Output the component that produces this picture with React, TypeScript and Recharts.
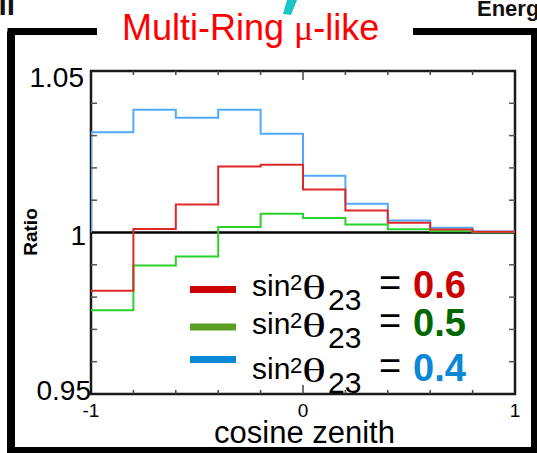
import React from 'react';
import { LineChart, Line, XAxis, YAxis, ReferenceLine, ReferenceArea, Legend } from 'recharts';

// ---- data ----
const BIN_EDGES = [-1, -0.8, -0.6, -0.4, -0.2, 0, 0.2, 0.4, 0.6, 0.8, 1];
const RATIO_SIN2_06 = [0.982, 1.0011, 1.0087, 1.0204, 1.021, 1.0133, 1.0068, 1.003, 1.0009, 1.0002];
const RATIO_SIN2_05 = [0.9759, 0.9898, 0.9926, 1.0017, 1.0058, 1.0045, 1.0025, 1.001, 1.0004, 1.0001];
const RATIO_SIN2_04 = [1.031, 1.038, 1.0355, 1.038, 1.0306, 1.0176, 1.0089, 1.0037, 1.0015, 1.0003];
const X_TICKS = [-1, -0.8, -0.6, -0.4, -0.2, 0, 0.2, 0.4, 0.6, 0.8, 1];
const X_TICK_LABELS: Record<string, string> = { '-1': '-1', '0': '0', '1': '1' };
const Y_TICKS = [0.95, 0.96, 0.97, 0.98, 0.99, 1, 1.01, 1.02, 1.03, 1.04, 1.05];
const Y_TICK_LABELS: Record<string, string> = { '0.95': '0.95', '1': '1', '1.05': '1.05' };
const LEGEND_VALUES = ['0.6', '0.5', '0.4'];
const TITLE = 'Multi-Ring';
const TITLE_MU = 'μ-like';
const X_TITLE = 'cosine zenith';
const Y_TITLE = 'Ratio';

// ---- layout / style ----
const W = 537;
const H = 453;
const PLOT_LEFT = 91;
const PLOT_RIGHT = 515;
const PLOT_TOP = 71;
const PLOT_BOTTOM = 394;
const SANS = '"Liberation Sans", Arial, Helvetica, sans-serif';
const SERIF = '"Liberation Serif", "Times New Roman", serif';

const LINE_COLORS = { s06: '#e02828', s05: '#2ad22a', s04: '#50aaff' };
const LEGEND_SWATCH = ['#cc0000', '#5a9e22', '#0a88d8'];
const LEGEND_VALUE_COLORS = ['#cc0000', '#006600', '#0a88d8'];
const LEGEND_BASELINES = [296, 334, 379];
const LEGEND_SWATCH_Y = [289.5, 327, 359.5];

function toSteps(values: number[], startAtUnity = false) {
  const pts: { x: number; y: number }[] = [];
  if (startAtUnity) pts.push({ x: BIN_EDGES[0], y: 1 });
  values.forEach((v, i) => pts.push({ x: BIN_EDGES[i], y: v }));
  pts.push({ x: BIN_EDGES[BIN_EDGES.length - 1], y: values[values.length - 1] });
  return pts;
}

const data06 = toSteps(RATIO_SIN2_06);
const data05 = toSteps(RATIO_SIN2_05);
const data04 = toSteps(RATIO_SIN2_04, true);

const XTick = (props: any) => {
  const { x, payload } = props;
  const v = payload.value;
  const key = String(Math.round(v * 10) / 10);
  const len = Math.abs(v) < 1e-9 ? 9 : 4;
  const label = X_TICK_LABELS[key];
  const edge = Math.abs(Math.abs(v) - 1) < 1e-9;
  return (
    <g>
      {!edge && (
        <>
          <line x1={x} x2={x} y1={PLOT_BOTTOM} y2={PLOT_BOTTOM - len} stroke="#444" strokeWidth={1.5} />
          <line x1={x} x2={x} y1={PLOT_TOP} y2={PLOT_TOP + len} stroke="#444" strokeWidth={1.5} />
        </>
      )}
      {label && (
        <text x={x} y={417} textAnchor="middle" fontSize={19} fontFamily={SANS} fill="#000">
          {label}
        </text>
      )}
    </g>
  );
};

const Y_LABEL_POS: Record<string, { right: number; dy: number }> = {
  '1.05': { right: 84, dy: 16 },
  '1': { right: 86, dy: 12.5 },
  '0.95': { right: 91, dy: 6 },
};

const YTick = (props: any) => {
  const { y, payload } = props;
  const v = payload.value;
  const key = String(Math.round(v * 100) / 100);
  const label = Y_TICK_LABELS[key];
  const isLine = key === '0.95' || key === '1.05' || key === '1';
  const pos = Y_LABEL_POS[key];
  return (
    <g>
      {!isLine && (
        <>
          <line x1={PLOT_LEFT} x2={PLOT_LEFT + 6} y1={y} y2={y} stroke="#555" strokeWidth={1.5} />
          <line x1={PLOT_RIGHT - 6} x2={PLOT_RIGHT} y1={y} y2={y} stroke="#555" strokeWidth={1.5} />
        </>
      )}
      {label && pos && (
        <text x={pos.right} y={y + pos.dy} textAnchor="end" fontSize={28} fontFamily={SANS} fill="#000">
          {label}
        </text>
      )}
    </g>
  );
};

const LegendContent = () => (
  <svg width={W} height={H} style={{ position: 'absolute', left: 0, top: 0, overflow: 'visible' }}>
    {LEGEND_VALUES.map((val, i) => {
      const b = LEGEND_BASELINES[i];
      return (
        <g key={val}>
          <rect x={190} y={LEGEND_SWATCH_Y[i] - 3.5} width={46} height={7} fill={LEGEND_SWATCH[i]} />
          <text fontFamily={SANS} fill="#000">
            <tspan x={252} y={b} fontSize={30}>sin</tspan>
            <tspan x={290} y={b - 6} fontSize={22}>2</tspan>
            <tspan x={328} y={b + 14} fontSize={30}>23</tspan>
            <tspan x={379} y={b} fontSize={38}>=</tspan>
            <tspan x={413} y={b + 2} fontSize={38} fontWeight="bold" fill={LEGEND_VALUE_COLORS[i]}>{val}</tspan>
          </text>
          <text
            x={302}
            y={b + 3}
            fontSize={33}
            fontFamily={SERIF}
            fill="#000"
            textLength={24}
            lengthAdjust="spacingAndGlyphs"
          >
            θ
          </text>
        </g>
      );
    })}
  </svg>
);

export default function App() {
  return (
    <div style={{ position: 'absolute', left: 0, top: 0, width: W, height: H, background: '#fff', overflow: 'hidden' }}>
      <LineChart
        width={W}
        height={H}
        margin={{ top: PLOT_TOP, right: W - PLOT_RIGHT, bottom: 0, left: 0 }}
      >
        <XAxis
          type="number"
          dataKey="x"
          domain={[-1, 1]}
          ticks={X_TICKS}
          interval={0}
          height={H - PLOT_BOTTOM}
          axisLine={false}
          tickLine={false}
          allowDataOverflow
          tick={(p: any) => <XTick {...p} />}
          label={{
            content: () => (
              <text x={304.5} y={443} textAnchor="middle" fontSize={31} fontFamily={SANS} fill="#000">
                {X_TITLE}
              </text>
            ),
          }}
        />
        <YAxis
          type="number"
          dataKey="y"
          domain={[0.95, 1.05]}
          ticks={Y_TICKS}
          interval={0}
          width={PLOT_LEFT}
          axisLine={false}
          tickLine={false}
          allowDataOverflow
          tick={(p: any) => <YTick {...p} />}
          label={{
            content: () => (
              <text
                x={37}
                y={232}
                transform="rotate(-90, 37, 232)"
                textAnchor="middle"
                fontSize={19}
                fontWeight="bold"
                fontFamily={SANS}
                fill="#000"
              >
                {Y_TITLE}
              </text>
            ),
          }}
        />
        <ReferenceArea x1={-1} x2={1} y1={0.95} y2={1.05} fill="none" fillOpacity={0} stroke="#1a1a1a" strokeWidth={2.5} ifOverflow="visible" />
        <ReferenceLine y={1} stroke="#000" strokeWidth={2.5} />
        <Line data={data05} dataKey="y" type="stepAfter" stroke={LINE_COLORS.s05} strokeWidth={2} dot={false} isAnimationActive={false} name="0.5" />
        <Line data={data04} dataKey="y" type="stepAfter" stroke={LINE_COLORS.s04} strokeWidth={2} dot={false} isAnimationActive={false} name="0.4" />
        <Line data={data06} dataKey="y" type="stepAfter" stroke={LINE_COLORS.s06} strokeWidth={2} dot={false} isAnimationActive={false} name="0.6" />
        <Legend
          layout="horizontal"
          verticalAlign="middle"
          align="center"
          wrapperStyle={{ position: 'absolute', left: 0, top: 0, width: W, height: H, pointerEvents: 'none' }}
          content={() => <LegendContent />}
        />
      </LineChart>
      <svg width={W} height={H} style={{ position: 'absolute', left: 0, top: 0, pointerEvents: 'none' }}>
        <path d="M 11 460 V 31.5 H 97 M 413 31.5 H 534.5 V 450.5 H 11" stroke="#000" strokeWidth={7} fill="none" />
        <path d="M 11 31.5 V 453" stroke="#000" strokeWidth={8} fill="none" />
        <text x={122} y={40} fontSize={36} fontFamily={SANS} fill="#ff0000">
          {TITLE}
          <tspan x={294} fontFamily={SERIF}>{TITLE_MU.slice(0, 1)}</tspan>
          <tspan fontFamily={SANS}>{TITLE_MU.slice(1)}</tspan>
        </text>
        <polygon points="287,0 297,0 291,15 283,14" fill="#19c5c5" />
        <text x={477} y={15.5} fontSize={22} fontWeight="bold" fontFamily={SANS} fill="#111">Energ</text>
        <text x={-1.5} y={15} fontSize={30} fontWeight="bold" fontFamily={SANS} fill="#111">ll</text>
      </svg>
    </div>
  );
}
